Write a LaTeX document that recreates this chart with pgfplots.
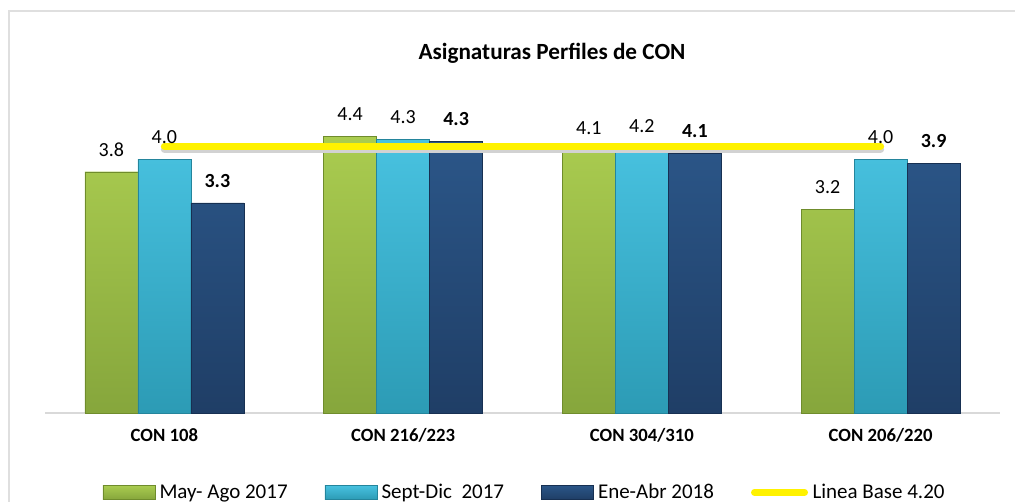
\documentclass[border=0pt]{standalone}
\usepackage{pgfplots}
\pgfplotsset{compat=1.18}
\usepackage{fontspec}
\setmainfont{Carlito}
\definecolor{gtop}{HTML}{AACC50}
\definecolor{gbot}{HTML}{86A63C}
\definecolor{gdraw}{HTML}{6F8C2C}
\definecolor{ctop}{HTML}{48C2E0}
\definecolor{cbot}{HTML}{2C9BB5}
\definecolor{cdraw}{HTML}{24859C}
\definecolor{ntop}{HTML}{2B5688}
\definecolor{nbot}{HTML}{1F3E66}
\definecolor{ndraw}{HTML}{173052}
\begin{document}
\begin{tikzpicture}[x=1pt,y=1pt]
\useasboundingbox (0,0) rectangle (1015,501);
\clip (0,0) rectangle (1015,501);
\draw[gray!25, line width=1.5pt] (9,-20) rectangle (1030,490);
\node[font=\bfseries\fontsize{23.2}{27}\selectfont] at (552,448) {Asignaturas Perfiles de CON};
\begin{axis}[
  at={(45pt,88pt)}, anchor=south west,
  scale only axis, width=955pt, height=317.5pt,
  xmin=-0.5, xmax=3.5, ymin=0, ymax=5,
  axis x line*=bottom, axis y line=none,
  x axis line style={gray!30, line width=1.5pt, -},
  xtick={0,1,2,3},
  xticklabels={CON 108, CON 216/223, CON 304/310, CON 206/220},
  major tick length=0pt,
  xticklabel style={font=\bfseries\fontsize{18.7}{22}\selectfont, yshift=-12pt},
  clip=false,
  legend columns=4,
  legend style={draw=none, fill=none, at={(axis description cs:0.057,-0.25)}, anchor=west,
    font=\fontsize{21}{25}\selectfont,
    /tikz/every odd column/.append style={column sep=2.5pt},
    /tikz/every even column/.append style={column sep=35pt}},
]
\addplot[ybar, bar width=53pt, bar shift=-53pt, top color=gtop, bottom color=gbot, draw=gdraw,
  nodes near coords={\pgfmathprintnumber[fixed,fixed zerofill,precision=1,assume math mode=true]{\pgfplotspointmeta}},
  every node near coord/.append style={anchor=center, xshift=-53pt, yshift=22pt, text=black, font=\fontsize{20}{24}\selectfont},
  legend image code/.code={\draw[top color=gtop, bottom color=gbot, draw=gdraw] (0pt,-7pt) rectangle (52pt,7pt);}]
  coordinates {(0,3.80) (1,4.36) (2,4.14) (3,3.21)};
\addlegendentry{May- Ago 2017}
\addplot[ybar, bar width=53pt, bar shift=0pt, top color=ctop, bottom color=cbot, draw=cdraw,
  nodes near coords={\pgfmathprintnumber[fixed,fixed zerofill,precision=1,assume math mode=true]{\pgfplotspointmeta}},
  every node near coord/.append style={anchor=center, yshift=22pt, text=black, font=\fontsize{20}{24}\selectfont},
  legend image code/.code={\draw[top color=ctop, bottom color=cbot, draw=cdraw] (0pt,-7pt) rectangle (52pt,7pt);}]
  coordinates {(0,4.00) (1,4.31) (2,4.17) (3,4.00)};
\addlegendentry{Sept-Dic\ \ 2017}
\addplot[ybar, bar width=53pt, bar shift=53pt, top color=ntop, bottom color=nbot, draw=ndraw,
  nodes near coords={\pgfmathprintnumber[fixed,fixed zerofill,precision=1,assume math mode=true]{\pgfplotspointmeta}},
  every node near coord/.append style={anchor=center, xshift=53pt, yshift=22pt, text=black, font=\bfseries\fontsize{20}{24}\selectfont},
  legend image code/.code={\draw[top color=ntop, bottom color=nbot, draw=ndraw] (0pt,-7pt) rectangle (52pt,7pt);}]
  coordinates {(0,3.31) (1,4.28) (2,4.09) (3,3.93)};
\addlegendentry{Ene-Abr 2018}
\addplot[gray!35, line width=7pt, line cap=round, yshift=-3pt, forget plot]
  coordinates {(0,4.2) (1,4.2) (2,4.2) (3,4.2)};
\addplot[yellow, line width=7pt, line cap=round,
  legend image code/.code={\draw[yellow, line width=7pt, line cap=round] (3.5pt,0pt) -- (53.5pt,0pt);}]
  coordinates {(0,4.2) (1,4.2) (2,4.2) (3,4.2)};
\addlegendentry{Linea Base 4.20}
\end{axis}
\end{tikzpicture}
\end{document}
